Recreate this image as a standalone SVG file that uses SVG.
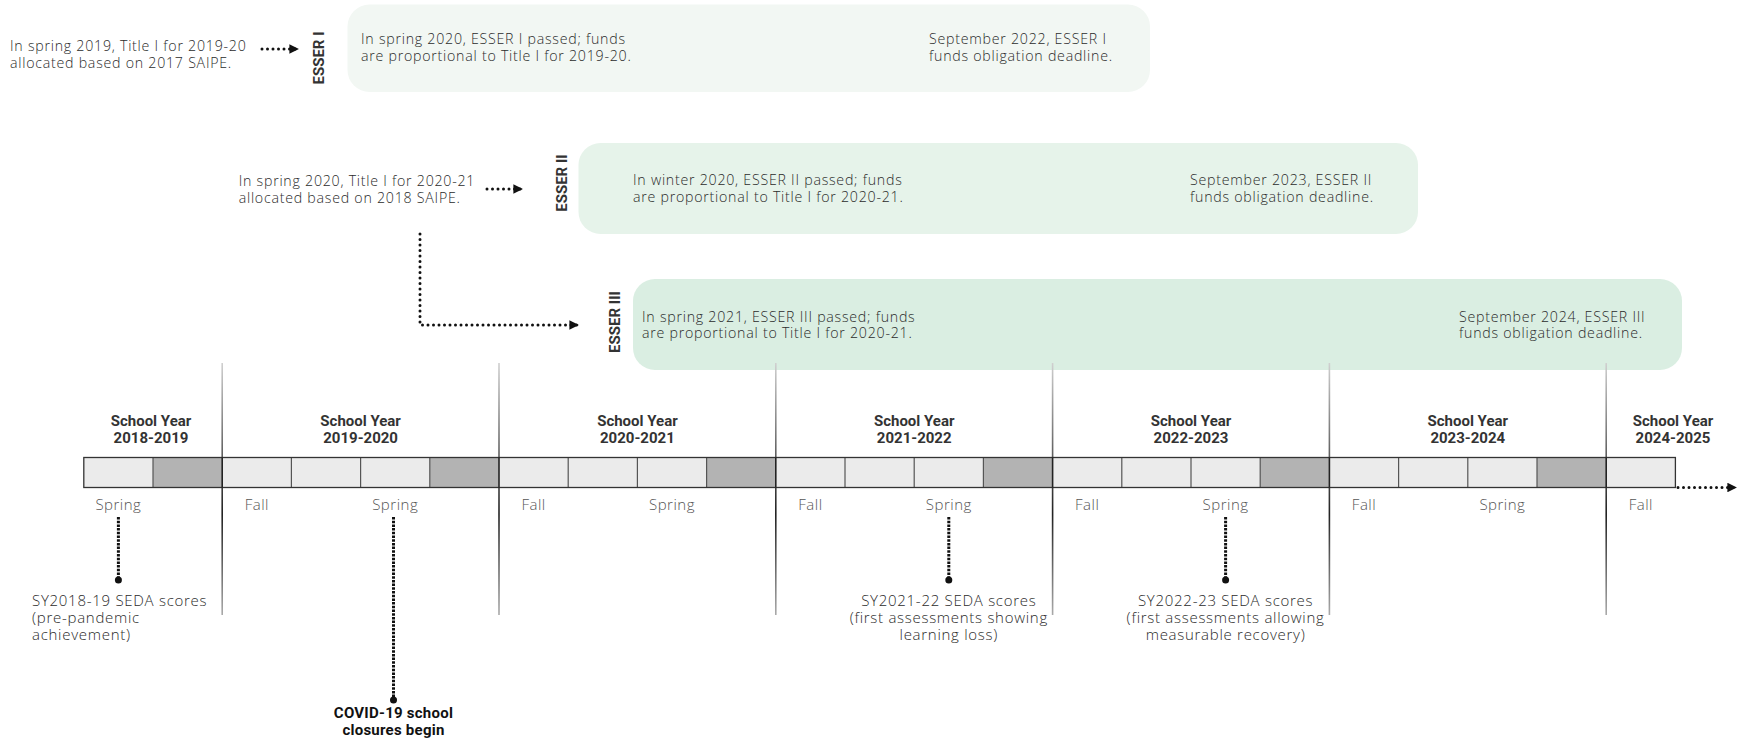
<svg xmlns="http://www.w3.org/2000/svg" width="1741" height="741" viewBox="0 0 1741 741">
<defs>
<style>
.t{font-family:"Open Sans","Liberation Sans",sans-serif;font-size:14.2px;letter-spacing:0.75px;font-weight:300;fill:#2b2b2b}
.n{font-family:"Open Sans","Liberation Sans",sans-serif;font-size:15px;letter-spacing:0.72px;font-weight:300;fill:#2b2b2b}
.s{font-family:"Open Sans","Liberation Sans",sans-serif;font-size:15px;letter-spacing:0.5px;font-weight:300;fill:#555;text-anchor:middle}
.b{font-family:Roboto,"Liberation Sans",sans-serif;font-size:15px;font-weight:700;fill:#333;text-anchor:middle}
.c{font-family:Roboto,"Liberation Sans",sans-serif;font-size:15px;letter-spacing:0.25px;font-weight:700;fill:#111;text-anchor:middle}
.e{font-family:Roboto,"Liberation Sans",sans-serif;font-size:15px;font-weight:700;fill:#333;text-anchor:middle}
.dot{fill:none;stroke:#111;stroke-width:3;stroke-dasharray:0 5.5;stroke-linecap:round}
.drop{fill:none;stroke:#111;stroke-width:3;stroke-dasharray:2.5 1.2}
.yr{stroke:url(#g);stroke-width:1.6}
.lt{fill:#ebebeb}
.dk{fill:#b3b3b3}
.sep{stroke:#555;stroke-width:1.2}
</style>
<linearGradient id="g" gradientUnits="userSpaceOnUse" x1="0" y1="363" x2="0" y2="615">
<stop offset="0" stop-color="#d0d0d0"/>
<stop offset="0.4" stop-color="#555"/>
<stop offset="0.6" stop-color="#222"/>
<stop offset="1" stop-color="#aaa"/>
</linearGradient>
<marker id="ah" viewBox="0 0 10 10" refX="9" refY="5" markerWidth="3.2" markerHeight="3.2" orient="auto" markerUnits="strokeWidth">
<path d="M0,0 L10,5 L0,10 z" fill="#111"/>
</marker>
</defs>

<g id="box-esser1">
<rect x="347.5" y="4.5" width="802.5" height="87.5" rx="22" fill="#f2f7f3"/>
<text class="e" transform="translate(323.5,58) rotate(-90)">ESSER I</text>
<text class="t" x="361" y="44">In spring 2020, ESSER I passed; funds</text>
<text class="t" x="361" y="60.5">are proportional to Title I for 2019-20.</text>
<text class="t" x="929" y="44">September 2022, ESSER I</text>
<text class="t" x="929" y="60.5">funds obligation deadline.</text>
</g>
<g id="title1-2019">
<text class="t" x="10" y="51">In spring 2019, Title I for 2019-20</text>
<text class="t" x="10" y="67.5">allocated based on 2017 SAIPE.</text>
</g>

<g id="box-esser2">
<rect x="578.5" y="143" width="839.5" height="91" rx="22" fill="#e6f3ea"/>
<text class="e" transform="translate(566.5,183) rotate(-90)">ESSER II</text>
<text class="t" x="633" y="185">In winter 2020, ESSER II passed; funds</text>
<text class="t" x="633" y="201.5">are proportional to Title I for 2020-21.</text>
<text class="t" x="1190" y="185">September 2023, ESSER II</text>
<text class="t" x="1190" y="201.5">funds obligation deadline.</text>
</g>
<g id="title1-2020">
<text class="t" x="238.7" y="186">In spring 2020, Title I for 2020-21</text>
<text class="t" x="238.7" y="202.5">allocated based on 2018 SAIPE.</text>
</g>

<g id="box-esser3">
<rect x="633" y="279" width="1049" height="91" rx="22" fill="#daeee2"/>
<text class="e" transform="translate(619.5,322) rotate(-90)">ESSER III</text>
<text class="t" x="642" y="321.5">In spring 2021, ESSER III passed; funds</text>
<text class="t" x="642" y="338">are proportional to Title I for 2020-21.</text>
<text class="t" x="1459" y="321.5">September 2024, ESSER III</text>
<text class="t" x="1459" y="338">funds obligation deadline.</text>
</g>

<g id="year-dividers">
<line class="yr" x1="222.2" y1="363" x2="222.2" y2="615"/>
<line class="yr" x1="499" y1="363" x2="499" y2="615"/>
<line class="yr" x1="775.8" y1="363" x2="775.8" y2="615"/>
<line class="yr" x1="1052.6" y1="363" x2="1052.6" y2="615"/>
<line class="yr" x1="1329.4" y1="363" x2="1329.4" y2="615"/>
<line class="yr" x1="1606.2" y1="363" x2="1606.2" y2="615"/>
</g>

<g id="timeline-bar">
<rect class="lt" x="83.8" y="457.5" width="1591.6" height="30"/>
<rect class="dk" x="153" y="457.5" width="69.2" height="30"/>
<rect class="dk" x="429.8" y="457.5" width="69.2" height="30"/>
<rect class="dk" x="706.6" y="457.5" width="69.2" height="30"/>
<rect class="dk" x="983.4" y="457.5" width="69.2" height="30"/>
<rect class="dk" x="1260.2" y="457.5" width="69.2" height="30"/>
<rect class="dk" x="1537" y="457.5" width="69.2" height="30"/>
<g class="sep">
<line x1="153" y1="457.5" x2="153" y2="487.5"/>
<line x1="291.4" y1="457.5" x2="291.4" y2="487.5"/>
<line x1="360.6" y1="457.5" x2="360.6" y2="487.5"/>
<line x1="429.8" y1="457.5" x2="429.8" y2="487.5"/>
<line x1="568.2" y1="457.5" x2="568.2" y2="487.5"/>
<line x1="637.4" y1="457.5" x2="637.4" y2="487.5"/>
<line x1="706.6" y1="457.5" x2="706.6" y2="487.5"/>
<line x1="845" y1="457.5" x2="845" y2="487.5"/>
<line x1="914.2" y1="457.5" x2="914.2" y2="487.5"/>
<line x1="983.4" y1="457.5" x2="983.4" y2="487.5"/>
<line x1="1121.8" y1="457.5" x2="1121.8" y2="487.5"/>
<line x1="1191" y1="457.5" x2="1191" y2="487.5"/>
<line x1="1260.2" y1="457.5" x2="1260.2" y2="487.5"/>
<line x1="1398.6" y1="457.5" x2="1398.6" y2="487.5"/>
<line x1="1467.8" y1="457.5" x2="1467.8" y2="487.5"/>
<line x1="1537" y1="457.5" x2="1537" y2="487.5"/>
</g>
<rect x="83.8" y="457.5" width="1591.6" height="30" fill="none" stroke="#333" stroke-width="1.3"/>
<g stroke="#222" stroke-width="1.6">
<line x1="222.2" y1="457.5" x2="222.2" y2="487.5"/>
<line x1="499" y1="457.5" x2="499" y2="487.5"/>
<line x1="775.8" y1="457.5" x2="775.8" y2="487.5"/>
<line x1="1052.6" y1="457.5" x2="1052.6" y2="487.5"/>
<line x1="1329.4" y1="457.5" x2="1329.4" y2="487.5"/>
<line x1="1606.2" y1="457.5" x2="1606.2" y2="487.5"/>
</g>
</g>

<g id="year-labels">
<text class="b" x="151" y="426">School Year</text><text class="b" x="151" y="443">2018-2019</text>
<text class="b" x="360.6" y="426">School Year</text><text class="b" x="360.6" y="443">2019-2020</text>
<text class="b" x="637.4" y="426">School Year</text><text class="b" x="637.4" y="443">2020-2021</text>
<text class="b" x="914.2" y="426">School Year</text><text class="b" x="914.2" y="443">2021-2022</text>
<text class="b" x="1191" y="426">School Year</text><text class="b" x="1191" y="443">2022-2023</text>
<text class="b" x="1467.8" y="426">School Year</text><text class="b" x="1467.8" y="443">2023-2024</text>
<text class="b" x="1673" y="426">School Year</text><text class="b" x="1673" y="443">2024-2025</text>
</g>

<g id="season-labels">
<text class="s" x="118.4" y="510">Spring</text>
<text class="s" x="256.8" y="510">Fall</text>
<text class="s" x="395.2" y="510">Spring</text>
<text class="s" x="533.6" y="510">Fall</text>
<text class="s" x="672" y="510">Spring</text>
<text class="s" x="810.4" y="510">Fall</text>
<text class="s" x="948.8" y="510">Spring</text>
<text class="s" x="1087.2" y="510">Fall</text>
<text class="s" x="1225.6" y="510">Spring</text>
<text class="s" x="1364" y="510">Fall</text>
<text class="s" x="1502.4" y="510">Spring</text>
<text class="s" x="1640.8" y="510">Fall</text>
</g>

<g id="connectors">
<line class="dot" x1="262" y1="49" x2="298" y2="49" marker-end="url(#ah)"/>
<line class="dot" x1="487" y1="189" x2="522" y2="189" marker-end="url(#ah)"/>
<polyline class="dot" points="420,234 420,325 578,325" marker-end="url(#ah)"/>
<line class="dot" x1="1678" y1="487.5" x2="1736" y2="487.5" marker-end="url(#ah)"/>
<line class="drop" x1="118.4" y1="517" x2="118.4" y2="580"/>
<circle cx="118.4" cy="580" r="3.5" fill="#111"/>
<line class="drop" x1="393.5" y1="517" x2="393.5" y2="700"/>
<circle cx="393.5" cy="700" r="3.5" fill="#111"/>
<line class="drop" x1="948.8" y1="517" x2="948.8" y2="580"/>
<circle cx="948.8" cy="580" r="3.5" fill="#111"/>
<line class="drop" x1="1225.6" y1="517" x2="1225.6" y2="580" stroke-width="2.2"/>
<circle cx="1225.6" cy="580" r="3.5" fill="#111"/>
</g>

<g id="note-sy2018">
<text class="n" x="32" y="606">SY2018-19 SEDA scores</text>
<text class="n" x="32" y="623">(pre-pandemic</text>
<text class="n" x="32" y="640">achievement)</text>
</g>
<g id="note-covid">
<text class="c" x="393.5" y="718">COVID-19 school</text>
<text class="c" x="393.5" y="735">closures begin</text>
</g>
<g id="note-sy2021">
<text class="n" x="948.8" y="606" text-anchor="middle">SY2021-22 SEDA scores</text>
<text class="n" x="948.8" y="623" text-anchor="middle">(first assessments showing</text>
<text class="n" x="948.8" y="640" text-anchor="middle">learning loss)</text>
</g>
<g id="note-sy2022">
<text class="n" x="1225.6" y="606" text-anchor="middle">SY2022-23 SEDA scores</text>
<text class="n" x="1225.6" y="623" text-anchor="middle">(first assessments allowing</text>
<text class="n" x="1225.6" y="640" text-anchor="middle">measurable recovery)</text>
</g>
</svg>
